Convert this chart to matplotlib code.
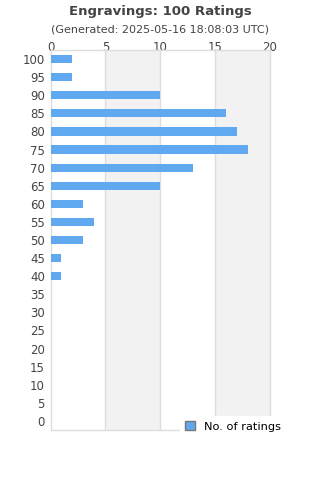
import numpy as np
import matplotlib

matplotlib.use("Agg")
import matplotlib.pyplot as plt
from matplotlib.patches import Patch

# ---------- data ----------
ratings = [100, 95, 90, 85, 80, 75, 70, 65, 60, 55, 50, 45, 40, 35, 30, 25, 20, 15, 10, 5, 0]
counts = [2, 2, 10, 16, 17, 18, 13, 10, 3, 4, 3, 1, 1, 0, 0, 0, 0, 0, 0, 0, 0]
x_ticks = [0, 5, 10, 15, 20]

title = "Engravings: 100 Ratings"
subtitle = "(Generated: 2025-05-16 18:08:03 UTC)"

bar_color = "#60a8f0"
text_color = "#444444"

fig = plt.figure(figsize=(3.2, 4.8), dpi=100)
ax = fig.add_axes([50.5 / 320, 50 / 480, (270 - 50.5) / 320, (430 - 50) / 480])

pos = np.arange(len(ratings))
ax.barh(pos, counts, height=0.45, color=bar_color, zorder=3, label="No. of ratings")

# alternating bands between ticks
for i, (a, b) in enumerate(zip(x_ticks[:-1], x_ticks[1:])):
    if i % 2 == 1:
        ax.axvspan(a, b, color="#f2f2f2", zorder=0, lw=0)
for t in x_ticks[1:-1]:
    ax.axvline(t, color="#dddddd", lw=1, zorder=1)

ax.set_xlim(0, 20)
ax.set_ylim(len(ratings) - 0.5, -0.5)
ax.set_yticks(pos)
ax.set_yticklabels([str(r) for r in ratings])
ax.set_xticks(x_ticks)
ax.xaxis.tick_top()
ax.tick_params(axis="both", length=0, labelsize=8.5, colors=text_color, pad=4)
ax.tick_params(axis="x", pad=-3)

for side in ["top", "right", "bottom", "left"]:
    ax.spines[side].set_color("#dddddd")
    ax.spines[side].set_linewidth(1)

fig.text(0.5, 1 - 11 / 480, title, ha="center", va="center",
         fontsize=9.5, fontweight="bold", color=text_color)
fig.text(0.5, 1 - 30 / 480, subtitle, ha="center", va="center",
         fontsize=8, color=text_color)

handles = [Patch(facecolor=bar_color, edgecolor="#777777", label="No. of ratings")]
leg = fig.legend(handles=handles, loc="upper left",
                 bbox_to_anchor=(174 / 320, 1 - 410 / 480),
                 frameon=True, fontsize=8.2, handlelength=0.8, handleheight=0.8,
                 borderpad=0.5, fancybox=False, labelcolor="black")
leg.get_frame().set_facecolor("white")
leg.get_frame().set_edgecolor("white")
leg.get_frame().set_alpha(1)
leg.set_zorder(10)

plt.savefig("out.png", dpi=100, facecolor="white")
